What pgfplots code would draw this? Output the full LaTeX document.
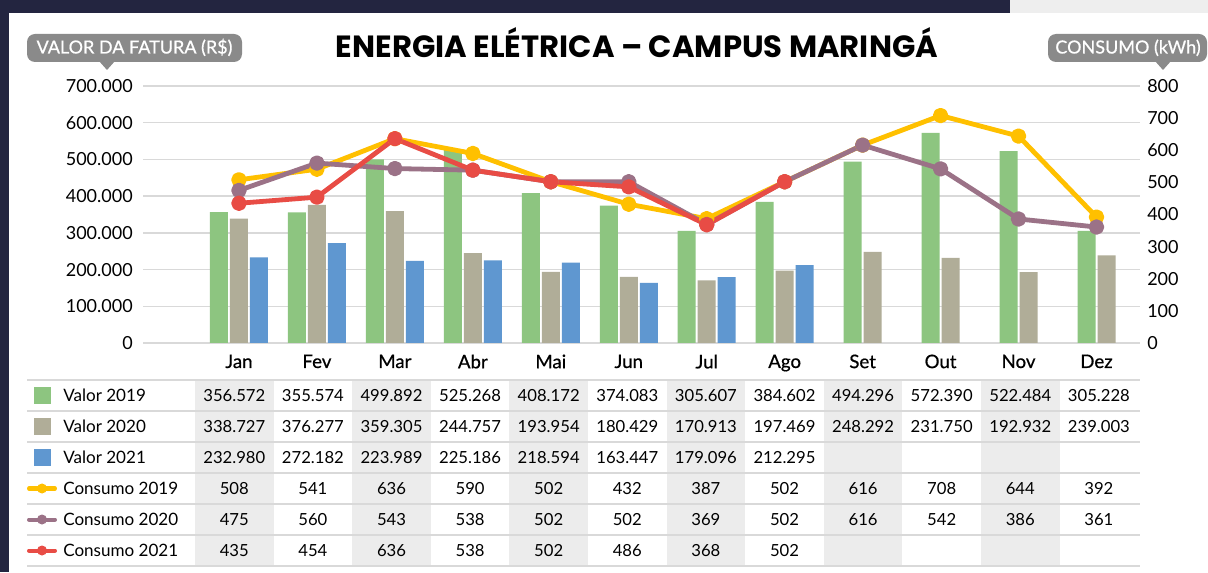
\documentclass[border=0pt]{standalone}
\usepackage{pgfplots}
\pgfplotsset{compat=1.18}
\usepackage{fontspec}
\setmainfont{Lato}
\newfontfamily\poppins{Poppins}
\newfontfamily\latomed{Lato}[FakeBold=0.6]
\definecolor{cGreen}{RGB}{141,197,128}
\definecolor{cGray}{RGB}{176,173,152}
\definecolor{cBlue}{RGB}{95,151,208}
\definecolor{cYellow}{RGB}{255,192,0}
\definecolor{cPurple}{RGB}{155,114,135}
\definecolor{cRed}{RGB}{232,76,69}
\definecolor{cNavy}{RGB}{35,37,64}
\definecolor{cBadge}{RGB}{138,138,138}
\definecolor{cGrid}{RGB}{217,217,217}
\definecolor{cShade}{RGB}{236,236,236}
\begin{document}
\begin{tikzpicture}[x=0.75pt,y=0.75pt]
\useasboundingbox (0,0) rectangle (1208,572);
% background frame
\fill[cNavy] (0,0) rectangle (1208,572);
\fill[white] (9,0) rectangle (1208,559);
\fill[cShade!90!white] (1010,559) rectangle (1208,572);
% table shading
\foreach \k in {0,2,4,6,8,10}{
  \fill[cShade] ({195+78.6*\k},6) rectangle ({195+78.6*(\k+1)},192);
}
\foreach \yy in {192,161,130,99,68,37,6}{
  \draw[cGrid, line width=1.1pt] (27,\yy) -- (1140,\yy);
}
% bar chart (left axis)
\begin{axis}[at={(107.25pt,171.75pt)}, anchor=south west, width=747.75pt, height=192.75pt,
  scale only axis, xmin=-1.231, xmax=11.558, ymin=0, ymax=700000,
  axis line style={draw=none}, major tick length=0pt,
  ymajorgrids, grid style={cGrid, line width=1.1pt},
  scaled y ticks=false,
  ytick={0,100000,200000,300000,400000,500000,600000,700000},
  yticklabels={0,100.000,200.000,300.000,400.000,500.000,600.000,700.000},
  yticklabel style={font=\fontsize{13.5}{15}\selectfont, anchor=east, inner sep=0pt, xshift=-7.5pt},
  xtick={0,...,11},
  xticklabels={Jan,Fev,Mar,Abr,Mai,Jun,Jul,Ago,Set,Out,Nov,Dez},
  xticklabel style={font=\latomed\fontsize{14}{16}\selectfont, anchor=north, inner sep=0pt, yshift=-8.5pt},
  clip=false]
\addplot[ybar, bar width=13.5pt, bar shift=-15pt, fill=cGreen, draw=none] coordinates
  {(0,356572) (1,355574) (2,499892) (3,525268) (4,408172) (5,374083) (6,305607) (7,384602)};
\addplot[ybar, bar width=13.5pt, bar shift=-7.5pt, fill=cGreen, draw=none] coordinates
  {(8,494296) (9,572390) (10,522484) (11,305228)};
\addplot[ybar, bar width=13.5pt, bar shift=0pt, fill=cGray, draw=none] coordinates
  {(0,338727) (1,376277) (2,359305) (3,244757) (4,193954) (5,180429) (6,170913) (7,197469)};
\addplot[ybar, bar width=13.5pt, bar shift=7.5pt, fill=cGray, draw=none] coordinates
  {(8,248292) (9,231750) (10,192932) (11,239003)};
\addplot[ybar, bar width=13.5pt, bar shift=15pt, fill=cBlue, draw=none] coordinates
  {(0,232980) (1,272182) (2,223989) (3,225186) (4,218594) (5,163447) (6,179096) (7,212295)};
\end{axis}
% lines (right axis)
\begin{axis}[at={(107.25pt,171.75pt)}, anchor=south west, width=747.75pt, height=192.75pt,
  scale only axis, xmin=-1.231, xmax=11.558, ymin=0, ymax=800,
  axis line style={draw=none}, major tick length=0pt,
  xtick=\empty, yticklabel pos=right,
  ytick={0,100,...,800},
  /pgf/number format/assume math mode=true,
  yticklabel style={font=\fontsize{13.5}{15}\selectfont, anchor=west, inner sep=0pt, xshift=5.25pt},
  clip=false]
\addplot[cYellow, line width=3.6pt, line join=round, mark=*, mark size=4pt, mark options={draw=none}] coordinates
  {(0,508) (1,541) (2,636) (3,590) (4,502) (5,432) (6,387) (7,502) (8,616) (9,708) (10,644) (11,392)};
\addplot[cPurple, line width=3.6pt, line join=round, mark=*, mark size=4pt, mark options={draw=none}] coordinates
  {(0,475) (1,560) (2,543) (3,538) (4,502) (5,502) (6,369) (7,502) (8,616) (9,542) (10,386) (11,361)};
\addplot[cRed, line width=3.6pt, line join=round, mark=*, mark size=4pt, mark options={draw=none}] coordinates
  {(0,435) (1,454) (2,636) (3,538) (4,502) (5,486) (6,368) (7,502)};
\end{axis}
% title
\node[font=\poppins\bfseries\fontsize{23}{26}\selectfont, anchor=base] at (637,514) {ENERGIA ELÉTRICA – CAMPUS MARINGÁ};
% badges
\fill[cBadge, rounded corners=6pt] (27,510) rectangle (242,538);
\fill[cBadge] (99,511) -- (115,511) -- (107,502) -- cycle;
\node[white, font=\latomed\fontsize{13.5}{15}\selectfont, anchor=base] at (134.5,518.5) {VALOR DA FATURA (R\$)};
\fill[cBadge, rounded corners=6pt] (1048,510) rectangle (1207,538);
\fill[cBadge] (1155,511) -- (1171,511) -- (1163,502) -- cycle;
\node[white, font=\latomed\fontsize{13.5}{15}\selectfont, anchor=base] at (1128,518.5) {CONSUMO (kWh)};
% table legend keys
\fill[cGreen] (34,168) rectangle (51,185);
\fill[cGray] (34,137) rectangle (51,154);
\fill[cBlue] (34,106) rectangle (51,123);
\draw[cYellow, line width=3pt, line cap=round] (29,83.5) -- (55,83.5);
\fill[cYellow] (42,83.5) circle (5);
\draw[cPurple, line width=3pt, line cap=round] (29,52.5) -- (55,52.5);
\fill[cPurple] (42,52.5) circle (5);
\draw[cRed, line width=3pt, line cap=round] (29,21.5) -- (55,21.5);
\fill[cRed] (42,21.5) circle (5);
% table labels
\foreach \lab [count=\ri from 0] in {Valor 2019,Valor 2020,Valor 2021,Consumo 2019,Consumo 2020,Consumo 2021}{
  \node[font=\fontsize{12.8}{14}\selectfont, anchor=base west, inner sep=0pt] at (63,{176.5-31*\ri-6}) {\lab};
}
% table values
\foreach \row [count=\ri from 0] in {
  {356.572,355.574,499.892,525.268,408.172,374.083,305.607,384.602,494.296,572.390,522.484,305.228},
  {338.727,376.277,359.305,244.757,193.954,180.429,170.913,197.469,248.292,231.750,192.932,239.003},
  {232.980,272.182,223.989,225.186,218.594,163.447,179.096,212.295},
  {508,541,636,590,502,432,387,502,616,708,644,392},
  {475,560,543,538,502,502,369,502,616,542,386,361},
  {435,454,636,538,502,486,368,502}}{
  \foreach \v [count=\ci from 0] in \row {
    \node[font=\fontsize{12.5}{14}\selectfont, anchor=base, inner sep=0pt] at ({234.3+78.6*\ci},{176.5-31*\ri-6}) {\v};
  }
}
\end{tikzpicture}
\end{document}
